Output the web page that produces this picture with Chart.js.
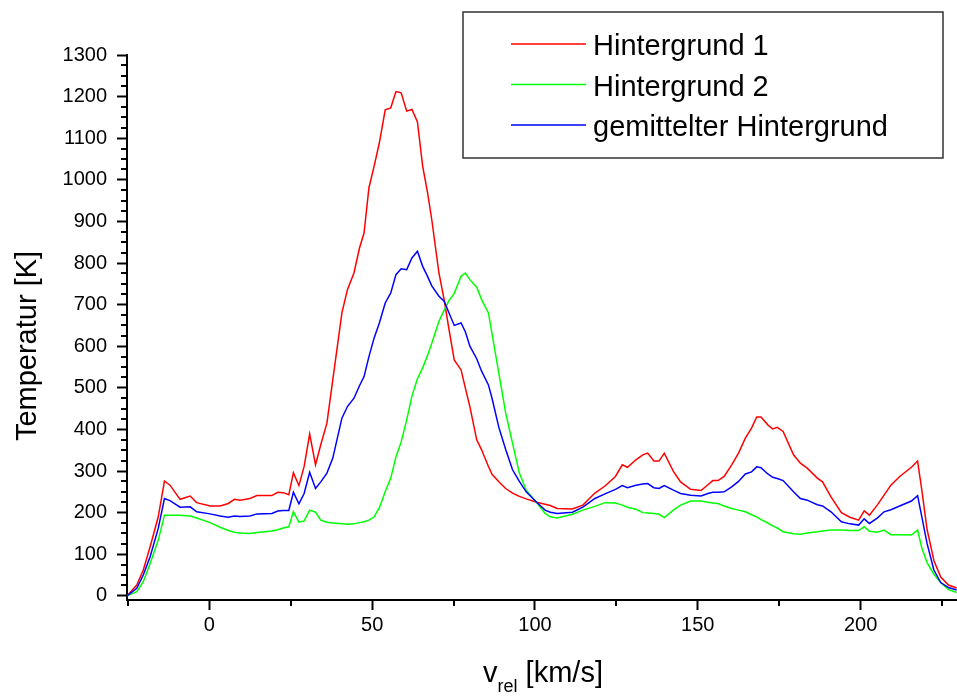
<!DOCTYPE html>
<html>
<head>
<meta charset="utf-8">
<script src="https://cdn.jsdelivr.net/npm/chart.js@4.4.1/dist/chart.umd.min.js"></script>
<style>
  html, body { margin: 0; padding: 0; background: #fff; }
  #wrap { width: 957px; height: 696px; }
</style>
</head>
<body>
<div id="wrap"><canvas id="chart" width="957" height="696"></canvas></div>
<script>
// v_rel in km/s
const velocity = [
  -25.3, -22.3, -20.3, -18.2, -15.7, -13.8, -12.1, -9.0, -5.9, -3.9,
  0.2, 3.3, 5.8, 7.7, 9.4, 12.5, 14.6, 19.2, 21.0, 22.7,
  24.4, 25.8, 27.5, 29.1, 30.8, 32.6, 34.2, 36.1, 37.9, 40.7,
  42.4, 44.4, 46.1, 47.5, 49.0, 50.6, 52.2, 54.0, 55.7, 57.3,
  58.9, 60.6, 62.2, 63.9, 65.5, 67.0, 68.3, 70.5, 72.1, 73.6,
  75.2, 77.3, 78.6, 80.0, 82.1, 83.6, 85.7, 86.8, 88.9, 91.0,
  93.1, 95.2, 97.3, 100.5, 103.1, 104.7, 106.8, 111.5, 114.7, 118.4,
  121.5, 124.7, 126.8, 128.4, 131.0, 133.1, 134.6, 136.5, 138.1, 139.7,
  142.5, 144.7, 147.8, 151.0, 153.1, 154.6, 156.2, 158.1, 160.4, 162.5,
  164.6, 166.5, 168.1, 169.4, 171.5, 173.0, 174.4, 176.2, 179.4, 181.5,
  183.6, 186.7, 188.3, 190.9, 194.1, 196.7, 199.4, 201.1, 202.7, 205.1,
  207.2, 209.3, 212.0, 215.6, 217.5, 218.8, 220.4, 222.5, 224.6, 227.0,
  229.5
];

// Temperatur [K]
const hintergrund1 = [
  0, 26, 62, 118, 190, 276, 266, 232, 240, 224,
  216, 216, 222, 232, 230, 234, 241, 241, 249, 248,
  243, 296, 265, 311, 389, 315, 363, 415, 519, 680,
  736, 776, 836, 872, 981, 1033, 1089, 1168, 1173, 1212,
  1209, 1165, 1169, 1139, 1033, 969, 904, 776, 712, 640,
  567, 543, 500, 455, 375, 351, 311, 292, 274, 258,
  247, 239, 233, 225, 220, 217, 210, 209, 218, 247,
  264, 287, 315, 309, 327, 339, 343, 324, 324, 343,
  299, 274, 256, 253, 267, 277, 277, 287, 315, 343,
  379, 403, 430, 430, 411, 401, 405, 395, 339, 319,
  307, 283, 274, 238, 200, 189, 182, 204, 194, 218,
  242, 266, 287, 309, 324, 254, 160, 85, 45, 26,
  19
];

const hintergrund2 = [
  0, 10, 34, 78, 134, 194, 194, 194, 192, 187,
  176, 165, 157, 153, 151, 150, 152, 156, 159, 163,
  166, 202, 177, 180, 206, 201, 182, 177, 175, 173,
  172, 173, 176, 178, 182, 190, 212, 250, 283, 334,
  370, 423, 480, 522, 548, 578, 607, 660, 686, 710,
  727, 768, 776, 760, 742, 712, 680, 630, 535, 439,
  367, 295, 254, 224, 198, 190, 187, 196, 206, 215,
  224, 223, 218, 213, 208, 200, 199, 198, 196, 188,
  206, 218, 228, 228, 225, 223, 222, 216, 210, 206,
  202, 195, 190, 183, 175, 168, 163, 154, 149, 148,
  151, 154, 156, 158, 158, 157, 157, 166, 155, 153,
  158, 147, 147, 146, 158, 115, 80, 52, 32, 15,
  8
];

const gemittelt = [
  0, 18, 50, 94, 162, 234, 229, 213, 214, 202,
  197, 192, 189, 192, 191, 192, 197, 198, 204, 205,
  205, 249, 221, 246, 297, 258, 274, 295, 331, 427,
  455, 475, 505, 527, 575, 620, 656, 704, 728, 772,
  786, 784, 812, 828, 792, 768, 745, 720, 708, 680,
  650, 656, 635, 600, 570, 540, 507, 475, 405, 352,
  303, 275, 250, 225, 206, 201, 198, 201, 213, 234,
  245, 256, 265, 260, 266, 269, 270, 260, 258, 265,
  254, 246, 242, 240, 246, 249, 249, 250, 262, 275,
  293, 298, 310, 308, 293, 285, 282, 277, 250, 234,
  230, 219, 216, 202, 178, 173, 170, 185, 174, 187,
  202, 207, 216, 228, 241, 190, 126, 62, 32, 20,
  14
];

const seriesLabels = ['Hintergrund 1', 'Hintergrund 2', 'gemittelter Hintergrund'];
const xTicks = [0, 50, 100, 150, 200];
const xMinorTicks = [-25, 25, 75, 125, 175, 225];
const yTicks = [0, 100, 200, 300, 400, 500, 600, 700, 800, 900, 1000, 1100, 1200, 1300];
const yMinorTicks = yTicks.slice(0, -1).flatMap(t => [t + 25, t + 50, t + 75]);

const FONT = '"Liberation Sans", Arial, sans-serif';
Chart.defaults.font.family = FONT;
Chart.defaults.color = '#000';

const toPoints = ys => velocity.map((v, i) => ({ x: v, y: ys[i] }));

// minor ticks, axis titles and the boxed legend
const axisExtras = {
  id: 'axisExtras',
  afterDraw(chart) {
    const { ctx, chartArea: area, scales: { x, y } } = chart;
    ctx.save();
    ctx.strokeStyle = '#000';
    ctx.lineWidth = 2;
    ctx.beginPath();
    yMinorTicks.forEach(v => {
      const py = Math.round(y.getPixelForValue(v));
      ctx.moveTo(area.left - 6, py);
      ctx.lineTo(area.left, py);
    });
    xMinorTicks.forEach(v => {
      const px = Math.round(x.getPixelForValue(v));
      ctx.moveTo(px, area.bottom);
      ctx.lineTo(px, area.bottom + 6);
    });
    ctx.stroke();

    // y title
    ctx.fillStyle = '#000';
    ctx.save();
    ctx.translate(36, 346);
    ctx.rotate(-Math.PI / 2);
    ctx.font = '29px ' + FONT;
    ctx.textAlign = 'center';
    ctx.textBaseline = 'alphabetic';
    ctx.fillText('Temperatur [K]', 0, 0);
    ctx.restore();

    // x title with subscript
    const big = '29px ' + FONT, small = '18px ' + FONT;
    ctx.textAlign = 'left';
    ctx.textBaseline = 'alphabetic';
    ctx.font = big;
    const wV = ctx.measureText('v').width;
    const wUnit = ctx.measureText(' [km/s]').width;
    ctx.font = small;
    const wSub = ctx.measureText('rel').width;
    let tx = (area.left + area.right) / 2 - (wV + wSub + wUnit) / 2 + 1;
    const base = 682;
    ctx.font = big;
    ctx.fillText('v', tx, base);
    tx += wV;
    ctx.font = small;
    ctx.fillText('rel', tx, base + 10);
    tx += wSub;
    ctx.font = big;
    ctx.fillText(' [km/s]', tx, base);

    // legend
    ctx.strokeStyle = '#333';
    ctx.lineWidth = 1.5;
    ctx.strokeRect(463, 12, 480, 146);
    ctx.font = '29px ' + FONT;
    ctx.textBaseline = 'alphabetic';
    chart.data.datasets.forEach((ds, i) => {
      const ly = 44 + i * 40.5;
      ctx.strokeStyle = ds.borderColor;
      ctx.lineWidth = 1.5;
      ctx.beginPath();
      ctx.moveTo(511, ly);
      ctx.lineTo(586, ly);
      ctx.stroke();
      ctx.fillStyle = '#000';
      ctx.fillText(ds.label, 593, ly + 11);
    });
    ctx.restore();
  }
};

const axisTickStyle = {
  drawOnChartArea: false,
  drawTicks: true,
  tickLength: 10,
  tickWidth: 2,
  tickColor: '#000'
};

new Chart(document.getElementById('chart').getContext('2d'), {
  type: 'line',
  data: {
    datasets: [
      { label: seriesLabels[0], data: toPoints(hintergrund1), borderColor: '#ff0000', order: 2 },
      { label: seriesLabels[1], data: toPoints(hintergrund2), borderColor: '#00ff00', order: 1 },
      { label: seriesLabels[2], data: toPoints(gemittelt), borderColor: '#0000ff', order: 0 }
    ]
  },
  options: {
    responsive: false,
    animation: false,
    layout: { padding: { top: 55, right: 0, bottom: 0, left: 0 } },
    elements: {
      point: { radius: 0 },
      line: { borderWidth: 1.5, tension: 0, fill: false }
    },
    plugins: {
      legend: { display: false },
      tooltip: { enabled: false }
    },
    scales: {
      x: {
        type: 'linear',
        min: -25.3,
        max: 229.6,
        afterBuildTicks: s => { s.ticks = xTicks.map(v => ({ value: v })); },
        afterFit: s => { s.height = 96; },
        grid: axisTickStyle,
        border: { display: true, color: '#000', width: 2 },
        ticks: {
          font: { size: 20 },
          color: '#000',
          padding: 3,
          maxRotation: 0,
          autoSkip: false,
          callback: v => String(v)
        }
      },
      y: {
        type: 'linear',
        min: -10,
        max: 1300,
        afterBuildTicks: s => { s.ticks = yTicks.map(v => ({ value: v })); },
        afterFit: s => { s.width = 127; },
        grid: axisTickStyle,
        border: { display: true, color: '#000', width: 2 },
        ticks: {
          font: { size: 20 },
          color: '#000',
          padding: 10,
          autoSkip: false,
          callback: v => String(v)
        }
      }
    }
  },
  plugins: [axisExtras]
});
</script>
</body>
</html>
